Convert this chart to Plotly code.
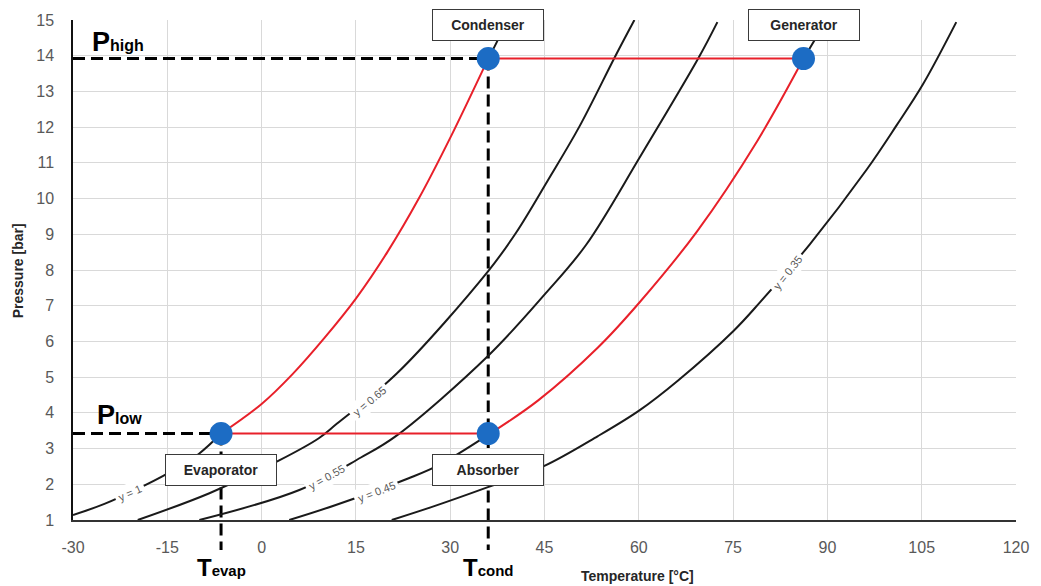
import plotly.graph_objects as go

# ---------------- data ----------------
x_ticks = [-30, -15, 0, 15, 30, 45, 60, 75, 90, 105, 120]
x_tick_text = ["-30", "-15", "0", "15", "30", "45", "60", "75", "90", "105", "120"]
y_ticks = list(range(1, 16))

# y = 1 (pure refrigerant) curve
y1_low_T = [-30, -25, -20, -15, -10, -6.45]
y1_low_P = [1.14, 1.45, 1.85, 2.3, 2.85, 3.42]
y1_red_T = [-6.45, 0, 5, 10, 15, 20, 25, 30, 36.05]
y1_red_P = [3.42, 4.25, 5.1, 6.1, 7.2, 8.5, 10.0, 11.7, 13.92]
y1_high_T = [36.05, 37.6, 38.9]
y1_high_P = [13.92, 14.45, 15.0]

# y = 0.65
y065_T = [-19.7, -8.3, 2.8, 9.1, 12.0, 21.5, 36.05, 40.5, 45.5, 50.5, 56.3, 59.3]
y065_P = [1.0, 1.75, 2.67, 3.29, 3.7, 5.1, 7.97, 9.05, 10.5, 12.0, 14.0, 15.0]

# y = 0.55
y055_T = [-9.9, 6.0, 15.8, 21.3, 36.05, 45.1, 51.6, 60.3, 69.6, 72.5]
y055_P = [1.0, 1.84, 2.75, 3.34, 5.6, 7.33, 8.7, 11.2, 13.97, 14.94]

# y = 0.45
y045_low_T = [4.4, 11.8, 23.4, 28.1, 35.9]
y045_low_P = [1.0, 1.42, 2.17, 2.53, 3.37]
y045_red_T = [35.9, 44.0, 53.5, 60.1, 69.3, 78.8, 86.2]
y045_red_P = [3.37, 4.35, 5.83, 7.09, 9.09, 11.6, 13.92]
y045_high_T = [86.2, 88.0, 89.8]
y045_high_P = [13.92, 14.45, 15.0]

# y = 0.35
y035_T = [20.7, 27, 36, 44.8, 53.5, 60.1, 66.2, 75.1, 79.3, 87.2, 96.2, 101, 105.2, 110.5]
y035_P = [1.0, 1.36, 1.92, 2.5, 3.35, 4.07, 4.9, 6.3, 7.1, 8.72, 10.8, 12.05, 13.2, 14.94]

# cycle state points
T_evap, T_cond, T_gen = -6.45, 36.05, 86.2
P_low, P_high = 3.42, 13.92
state_names = ["Evaporator", "Condenser", "Generator", "Absorber"]
state_T = [T_evap, T_cond, T_gen, T_cond]
state_P = [P_low, P_high, P_high, P_low]

# curve labels
curve_labels = ["y = 1", "y = 0.65", "y = 0.55", "y = 0.45", "y = 0.35"]
label_T = [-21.0, 17.2, 10.4, 18.2, 83.6]
label_P = [1.75, 4.32, 2.2, 1.78, 7.92]
label_angle = [-24, -40, -29, -21, -52]

# ---------------- figure ----------------
BLACK = "#1a1a1a"
RED = "#e8202a"
BLUE = "#1c6cc4"
FONT = "Liberation Sans, Arial, sans-serif"

fig = go.Figure()

def curve(T, P, color):
    fig.add_trace(go.Scatter(x=T, y=P, mode="lines",
                             line=dict(color=color, width=2, shape="spline", smoothing=1.0),
                             hoverinfo="skip", showlegend=False))

curve(y1_low_T, y1_low_P, BLACK)
curve(y1_high_T, y1_high_P, BLACK)
curve(y065_T, y065_P, BLACK)
curve(y055_T, y055_P, BLACK)
curve(y045_low_T, y045_low_P, BLACK)
curve(y045_high_T, y045_high_P, BLACK)
curve(y035_T, y035_P, BLACK)
curve(y1_red_T, y1_red_P, RED)
curve(y045_red_T, y045_red_P, RED)

# horizontal red lines
fig.add_trace(go.Scatter(x=[T_evap, T_cond], y=[P_low, P_low], mode="lines",
                         line=dict(color=RED, width=2), showlegend=False, hoverinfo="skip"))
fig.add_trace(go.Scatter(x=[T_cond, T_gen], y=[P_high, P_high], mode="lines",
                         line=dict(color=RED, width=2), showlegend=False, hoverinfo="skip"))

# state markers
fig.add_trace(go.Scatter(x=state_T, y=state_P, mode="markers",
                         marker=dict(color=BLUE, size=23, line=dict(width=0)),
                         showlegend=False, hoverinfo="skip", cliponaxis=False))

DASH = "12px,6px"
shapes = [
    dict(type="line", xref="x", yref="y", x0=-30, x1=T_cond, y0=P_high, y1=P_high,
         line=dict(color="black", width=3, dash=DASH), layer="between"),
    dict(type="line", xref="x", yref="y", x0=-30, x1=T_evap, y0=P_low, y1=P_low,
         line=dict(color="black", width=3, dash=DASH), layer="between"),
    dict(type="line", xref="x", yref="paper", x0=T_evap, x1=T_evap, y0=(P_low - 1) / 14, y1=-0.06,
         line=dict(color="black", width=3, dash=DASH), layer="between"),
    dict(type="line", xref="x", yref="paper", x0=T_cond, x1=T_cond, y0=(P_high - 1) / 14, y1=-0.06,
         line=dict(color="black", width=3, dash=DASH), layer="between"),
]

annotations = []
# component boxes
for name, t, p in zip(state_names, state_T, state_P):
    annotations.append(dict(x=t, y=p, xref="x", yref="y", text="<b>%s</b>" % name,
                            showarrow=False, yshift=34 if p > 8 else -36,
                            xanchor="center", yanchor="middle",
                            font=dict(family=FONT, size=14, color="#262626"),
                            bgcolor="white", bordercolor="#3a3a3a", borderwidth=1,
                            borderpad=1, width=108, height=28))
# curve labels
for txt, t, p, a in zip(curve_labels, label_T, label_P, label_angle):
    annotations.append(dict(x=t, y=p, xref="x", yref="y", text=txt, showarrow=False,
                            xanchor="center", yanchor="middle",
                            textangle=a, font=dict(family=FONT, size=11, color="#595959"),
                            bgcolor="white", borderpad=3))
# P / T labels
annotations += [
    dict(x=-22.9, y=14.39, xref="x", yref="y", showarrow=False,
         xanchor="center", yanchor="middle",
         text="<b>P<span style='font-size:16px'>high</span></b>",
         font=dict(family=FONT, size=27, color="black")),
    dict(x=-22.6, y=3.93, xref="x", yref="y", showarrow=False,
         xanchor="center", yanchor="middle",
         text="<b>P<span style='font-size:16px'>low</span></b>",
         font=dict(family=FONT, size=27, color="black")),
    dict(x=T_evap, y=-0.094, xref="x", yref="paper", showarrow=False,
         xanchor="center", yanchor="middle",
         text="<b>T<span style='font-size:15px'>evap</span></b>",
         font=dict(family=FONT, size=24, color="black")),
    dict(x=T_cond, y=-0.094, xref="x", yref="paper", showarrow=False,
         xanchor="center", yanchor="middle",
         text="<b>T<span style='font-size:15px'>cond</span></b>",
         font=dict(family=FONT, size=24, color="black")),
    dict(x=0.599, y=-0.112, xref="paper", yref="paper", showarrow=False,
         xanchor="center", yanchor="middle",
         text="<b>Temperature [°C]</b>", font=dict(family=FONT, size=14, color="#262626")),
    dict(x=-0.058, y=0.498, xref="paper", yref="paper", showarrow=False, textangle=-90,
         xanchor="center", yanchor="middle",
         text="<b>Pressure [bar]</b>", font=dict(family=FONT, size=14, color="#262626")),
]

fig.update_layout(
    width=1041, height=586,
    margin=dict(l=73, r=21, t=18, b=66),
    paper_bgcolor="white", plot_bgcolor="white",
    shapes=shapes, annotations=annotations,
    font=dict(family=FONT),
)
fig.update_xaxes(range=[-30, 120], tickvals=x_ticks, ticktext=x_tick_text,
                 showgrid=True, gridcolor="#d9d9d9", gridwidth=1, zeroline=False,
                 showline=True, linecolor="#333333", linewidth=1.5,
                 ticks="", ticklabelstandoff=12,
                 tickfont=dict(family=FONT, size=16, color="#595959"))
fig.update_yaxes(range=[1, 15], tickvals=y_ticks,
                 showgrid=True, gridcolor="#d9d9d9", gridwidth=1, zeroline=False,
                 showline=True, linecolor="#111111", linewidth=1.5,
                 ticks="", ticklabelstandoff=14,
                 tickfont=dict(family=FONT, size=16, color="#595959"))

fig.write_html("out.html")
